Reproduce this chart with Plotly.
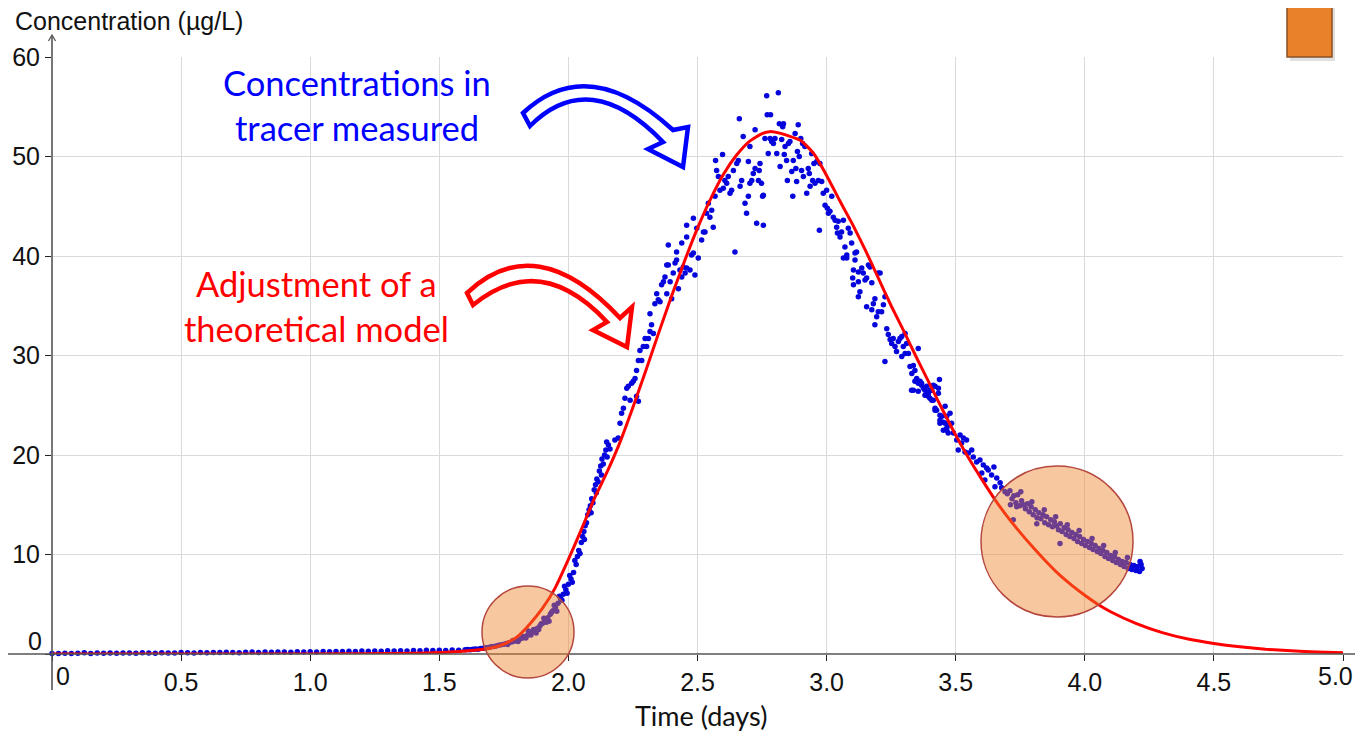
import plotly.graph_objects as go

# ---------------- data (time in days, concentration in µg/L) ----------------
meas_baseline = [
    [0.000, 0.06], [0.025, 0.04], [0.050, 0.08], [0.075, 0.05], [0.100, 0.07], [0.125, 0.12],
    [0.150, 0.06], [0.175, 0.09], [0.200, 0.07], [0.225, 0.10], [0.250, 0.08], [0.275, 0.11],
    [0.300, 0.09], [0.325, 0.07], [0.350, 0.12], [0.375, 0.10], [0.400, 0.08], [0.425, 0.13],
    [0.450, 0.11], [0.475, 0.09], [0.500, 0.14], [0.525, 0.12], [0.550, 0.10], [0.575, 0.15],
    [0.600, 0.13], [0.625, 0.16], [0.650, 0.14], [0.675, 0.18], [0.700, 0.15], [0.725, 0.13],
    [0.750, 0.17], [0.775, 0.19], [0.800, 0.16], [0.825, 0.20], [0.850, 0.18], [0.875, 0.21],
    [0.900, 0.19], [0.925, 0.17], [0.950, 0.22], [0.975, 0.20], [1.000, 0.23], [1.025, 0.21],
    [1.050, 0.25], [1.075, 0.22], [1.100, 0.26], [1.125, 0.24], [1.150, 0.28], [1.175, 0.25],
    [1.200, 0.29], [1.225, 0.27], [1.250, 0.30], [1.275, 0.28], [1.300, 0.32], [1.325, 0.30],
    [1.350, 0.33], [1.375, 0.31], [1.400, 0.35], [1.425, 0.33], [1.450, 0.37], [1.475, 0.35],
    [1.500, 0.38], [1.525, 0.36], [1.550, 0.40], [1.575, 0.38],
]
meas_onset = [
    [1.600, 0.42], [1.610, 0.45], [1.620, 0.43], [1.630, 0.48], [1.640, 0.50], [1.650, 0.47],
    [1.660, 0.55], [1.670, 0.58], [1.680, 0.62], [1.690, 0.66], [1.700, 0.72], [1.710, 0.76],
    [1.720, 0.80], [1.730, 0.88], [1.740, 0.92], [1.750, 0.98], [1.760, 1.05], [1.770, 1.12],
    [1.780, 1.20], [1.790, 1.28], [1.800, 1.38], [1.810, 1.46], [1.820, 1.58], [1.830, 1.72],
    [1.840, 1.85], [1.850, 2.02], [1.860, 2.20], [1.870, 2.38], [1.880, 2.60], [1.890, 2.85],
    [1.900, 3.10], [1.910, 3.40], [1.920, 3.65], [1.930, 4.00], [1.940, 4.35], [1.950, 4.70],
    [1.960, 5.10], [1.970, 5.55], [1.980, 6.00], [1.990, 6.45], [2.000, 7.00], [2.010, 7.55],
    [2.020, 8.20], [2.030, 9.00],
    [1.845, 2.30], [1.875, 2.10], [1.905, 3.60], [1.925, 3.30], [1.945, 4.90], [1.955, 4.30],
    [1.965, 5.80], [1.985, 6.80], [1.995, 6.10], [2.005, 7.90], [2.015, 7.20], [2.025, 9.40],
    [1.765, 0.95], [1.785, 1.35], [1.805, 1.25], [1.825, 1.75], [1.835, 1.60], [1.855, 1.90],
    [1.865, 2.45], [1.885, 2.45], [1.895, 3.05], [1.915, 3.20], [1.935, 4.20], [1.975, 5.40],
]
meas_rise = [
    [2.035, 9.8], [2.040, 10.4], [2.045, 10.1], [2.050, 11.2], [2.055, 11.8], [2.060, 12.3],
    [2.065, 12.9], [2.070, 13.2], [2.075, 14.0], [2.080, 14.5], [2.085, 14.9], [2.090, 15.6],
    [2.095, 15.2], [2.100, 16.5], [2.105, 17.0], [2.110, 17.6], [2.115, 17.3], [2.120, 18.4],
    [2.125, 18.9], [2.130, 19.6], [2.135, 19.1], [2.140, 20.0], [2.145, 20.5], [2.150, 19.8],
    [2.155, 21.0], [2.062, 11.5], [2.088, 14.2], [2.108, 16.2], [2.128, 18.0], [2.148, 21.3],
    [2.161, 20.6], [2.180, 21.5], [2.193, 21.7], [2.200, 23.2], [2.206, 24.2], [2.213, 24.7],
    [2.219, 25.7], [2.226, 26.7], [2.232, 26.9], [2.239, 25.5], [2.245, 27.2], [2.251, 27.4],
    [2.258, 27.7], [2.264, 25.9], [2.271, 25.4], [2.264, 28.5], [2.271, 29.5], [2.284, 29.5],
    [2.277, 30.5], [2.290, 30.9], [2.297, 31.7], [2.303, 30.9], [2.310, 31.7], [2.316, 32.4],
    [2.316, 34.2], [2.322, 33.1], [2.329, 32.2], [2.335, 35.2], [2.342, 36.2], [2.348, 35.6],
    [2.355, 35.4], [2.361, 37.1], [2.368, 37.4], [2.374, 37.9], [2.381, 36.2], [2.387, 39.1],
    [2.394, 37.4], [2.400, 35.7], [2.406, 38.3], [2.413, 39.3], [2.419, 39.6], [2.426, 36.7],
    [2.432, 38.6], [2.439, 37.9], [2.445, 38.9], [2.452, 38.3], [2.458, 38.8], [2.471, 38.6],
    [2.477, 40.1], [2.484, 40.3], [2.490, 38.1], [2.503, 39.8],
]
meas_peak = [
    [2.387, 41.1], [2.381, 39.1], [2.419, 40.4], [2.439, 41.3], [2.458, 41.9], [2.458, 43.1],
    [2.484, 43.8], [2.497, 42.8], [2.523, 42.4], [2.516, 41.6], [2.529, 42.4], [2.535, 44.3],
    [2.542, 45.3], [2.548, 43.9], [2.555, 44.6], [2.561, 42.9], [2.568, 46.0], [2.574, 48.6],
    [2.581, 48.0], [2.570, 49.6], [2.597, 50.2], [2.587, 46.6], [2.600, 46.8], [2.606, 47.6],
    [2.613, 47.3], [2.619, 48.0], [2.626, 46.3], [2.632, 46.6], [2.639, 48.6], [2.645, 40.4],
    [2.652, 49.3], [2.658, 49.6], [2.662, 53.8], [2.665, 47.0], [2.671, 47.6], [2.677, 52.0],
    [2.684, 45.3], [2.690, 44.3], [2.697, 46.0], [2.697, 49.5], [2.703, 47.3], [2.703, 51.0],
    [2.710, 47.6], [2.716, 48.3], [2.723, 48.8], [2.723, 52.7], [2.729, 43.3], [2.736, 47.6],
    [2.739, 48.6], [2.742, 49.3], [2.748, 47.3], [2.752, 46.0], [2.755, 43.1], [2.755, 46.1],
    [2.761, 51.8], [2.768, 56.1], [2.770, 54.2], [2.774, 50.3], [2.781, 51.8], [2.783, 54.2],
    [2.787, 51.5], [2.794, 51.3], [2.800, 51.8], [2.807, 50.3], [2.813, 56.4], [2.817, 53.3],
    [2.820, 49.0], [2.826, 51.7], [2.830, 53.0], [2.833, 53.3], [2.836, 50.2], [2.839, 51.0],
    [2.845, 49.6], [2.848, 47.6], [2.852, 51.3], [2.858, 51.5], [2.865, 48.5], [2.869, 46.0],
    [2.871, 49.6], [2.878, 52.3], [2.881, 48.8], [2.884, 47.5], [2.887, 50.5], [2.890, 53.2],
    [2.894, 50.0], [2.900, 51.8], [2.903, 48.6], [2.907, 51.3], [2.910, 48.0], [2.916, 51.0],
    [2.923, 46.3], [2.929, 48.8], [2.933, 48.3], [2.936, 47.0], [2.942, 50.3], [2.946, 47.6],
    [2.951, 49.3], [2.955, 47.3], [2.962, 49.5], [2.968, 47.6], [2.972, 42.6], [2.974, 49.3],
    [2.981, 47.5], [2.987, 46.3], [2.994, 45.1], [3.000, 46.6], [3.003, 44.8], [3.007, 44.3],
    [3.013, 44.5], [3.020, 46.0], [3.026, 43.9], [3.033, 43.6], [3.039, 42.9], [3.042, 42.3],
    [3.045, 43.5], [3.052, 41.9], [3.058, 42.4], [3.065, 43.6], [3.071, 40.9], [3.078, 39.8],
    [3.084, 42.8], [3.091, 42.3], [3.097, 41.3], [3.104, 38.6], [3.110, 40.3], [3.116, 40.4],
    [3.123, 38.4], [3.136, 38.8], [3.142, 38.3], [3.168, 38.9], [3.200, 38.3],
]
meas_fall = [
    [3.065, 39.8], [3.078, 40.1], [3.110, 39.6], [3.101, 37.8], [3.104, 37.1], [3.123, 37.4],
    [3.149, 37.6], [3.155, 37.8], [3.162, 39.1], [3.129, 36.4], [3.123, 35.9], [3.175, 37.3],
    [3.207, 38.3], [3.155, 34.9], [3.175, 34.6], [3.181, 35.2], [3.187, 35.7], [3.194, 33.9],
    [3.200, 34.4], [3.213, 34.4], [3.220, 35.1], [3.187, 33.1], [3.226, 35.9], [3.233, 32.7],
    [3.239, 32.1], [3.246, 31.6], [3.252, 31.2], [3.258, 31.7], [3.265, 30.9], [3.271, 30.4],
    [3.278, 31.4], [3.284, 31.7], [3.291, 31.9], [3.297, 30.9], [3.304, 32.2], [3.310, 31.2],
    [3.226, 29.4], [3.291, 29.9], [3.304, 30.2], [3.317, 30.2], [3.355, 30.7], [3.323, 28.9],
    [3.336, 29.0], [3.342, 28.5], [3.330, 28.2], [3.349, 27.7], [3.355, 27.2], [3.362, 27.4],
    [3.368, 27.0], [3.375, 26.7], [3.381, 26.5], [3.388, 26.9], [3.394, 26.2], [3.400, 26.5],
    [3.413, 27.0], [3.437, 27.6], [3.336, 26.5], [3.400, 25.7], [3.413, 25.5], [3.420, 24.7],
    [3.426, 24.5], [3.433, 26.2], [3.439, 24.0], [3.446, 23.9], [3.452, 23.3], [3.459, 23.2],
    [3.465, 22.5], [3.471, 22.2], [3.439, 23.2],
    [3.329, 26.5], [3.342, 27.4], [3.355, 26.4], [3.368, 27.2], [3.381, 26.0], [3.394, 25.9],
    [3.407, 26.5], [3.420, 26.9], [3.433, 26.7], [3.407, 25.5], [3.420, 24.5], [3.439, 23.5],
    [3.459, 24.9], [3.465, 23.9], [3.478, 24.2], [3.452, 22.5], [3.471, 23.0], [3.484, 23.2],
    [3.465, 22.7], [3.491, 22.2], [3.504, 21.5], [3.517, 22.0], [3.530, 21.7], [3.542, 21.5],
    [3.523, 21.2], [3.510, 20.5], [3.536, 20.3], [3.549, 20.2], [3.562, 20.5], [3.568, 19.8],
    [3.581, 19.3], [3.594, 19.5], [3.607, 19.0], [3.620, 18.7], [3.601, 18.2], [3.613, 17.5],
    [3.626, 18.5], [3.639, 18.0], [3.648, 18.8], [3.659, 17.7], [3.672, 17.2], [3.652, 16.8],
    [3.678, 16.7], [3.691, 16.3],
]
meas_tail = [
    [3.700, 16.1], [3.710, 16.4], [3.718, 15.6], [3.725, 15.9], [3.733, 15.2], [3.740, 16.0],
    [3.748, 14.9], [3.755, 15.4], [3.762, 15.0], [3.770, 14.6], [3.778, 15.1], [3.785, 14.3],
    [3.792, 14.8], [3.800, 14.0], [3.808, 14.5], [3.815, 13.7], [3.822, 14.2], [3.830, 13.6],
    [3.838, 14.0], [3.845, 13.2], [3.852, 13.8], [3.860, 13.0], [3.868, 13.5], [3.875, 12.8],
    [3.882, 13.3], [3.890, 12.9], [3.898, 12.5], [3.905, 13.1], [3.912, 12.3], [3.920, 12.7],
    [3.928, 12.0], [3.935, 12.5], [3.942, 11.8], [3.950, 12.2], [3.958, 11.6], [3.965, 12.0],
    [3.972, 11.3], [3.980, 11.8], [3.988, 11.1], [3.995, 11.5], [4.002, 10.9], [4.010, 11.3],
    [4.018, 10.7], [4.025, 11.1], [4.032, 10.5], [4.040, 10.9], [4.048, 10.3], [4.055, 10.6],
    [4.062, 10.1], [4.070, 10.4], [4.078, 9.8], [4.085, 10.2], [4.092, 9.6], [4.100, 9.9],
    [4.108, 9.4], [4.115, 9.8], [4.122, 9.2], [4.130, 9.5], [4.138, 9.0], [4.145, 9.3],
    [4.152, 8.8], [4.160, 9.2], [4.168, 8.6], [4.175, 9.0], [4.182, 8.5], [4.190, 8.9],
    [4.198, 8.4], [4.205, 8.8], [4.212, 8.3], [4.218, 9.0], [4.222, 8.6],
    [3.723, 13.5], [3.814, 13.1], [3.904, 11.1], [3.736, 14.8], [3.712, 15.0], [3.752, 16.3],
    [3.795, 15.3], [3.843, 14.5], [3.887, 13.8], [3.932, 13.0], [3.978, 12.4], [4.028, 11.6],
    [4.073, 10.9], [4.118, 10.2], [4.165, 9.7], [4.214, 9.3],
]

model_t = [0.0, 0.5, 1.0, 1.2, 1.4, 1.5, 1.6, 1.7, 1.75, 1.8, 1.85, 1.9, 1.95, 2.0, 2.05, 2.1,
           2.15, 2.2, 2.25, 2.3, 2.35, 2.4, 2.45, 2.5, 2.55, 2.6, 2.65, 2.7, 2.75, 2.78, 2.8,
           2.85, 2.9, 2.95, 3.0, 3.05, 3.1, 3.15, 3.2, 3.25, 3.3, 3.35, 3.4, 3.45, 3.5, 3.55,
           3.6, 3.65, 3.7, 3.75, 3.8, 3.85, 3.9, 3.95, 4.0, 4.05, 4.1, 4.2, 4.3, 4.4, 4.5,
           4.6, 4.7, 4.8, 4.9, 5.0]
model_c = [0.0, 0.0, 0.01, 0.03, 0.08, 0.15, 0.3, 0.6, 1.0, 1.7, 3.0, 4.6, 6.7, 9.5, 12.5, 15.6,
           18.3, 21.3, 24.8, 28.5, 32.3, 36.0, 39.5, 42.8, 45.7, 48.2, 50.1, 51.5, 52.3, 52.5, 52.45,
           52.1, 51.6, 50.3, 48.1, 45.6, 43.2, 40.6, 37.8, 35.0, 32.4, 29.7, 27.1, 24.5, 22.0, 19.7,
           17.6, 15.6, 13.8, 12.2, 10.7, 9.3, 8.0, 6.9, 5.9, 5.0, 4.25, 3.05, 2.15, 1.5, 1.05,
           0.72, 0.48, 0.32, 0.2, 0.12]

x_ticks = [0, 0.5, 1.0, 1.5, 2.0, 2.5, 3.0, 3.5, 4.0, 4.5, 5.0]
x_tick_text = ["", "0.5", "1.0", "1.5", "2.0", "2.5", "3.0", "3.5", "4.0", "4.5", ""]
x_last_label = "5.0"
y_ticks = [0, 10, 20, 30, 40, 50, 60]
y_tick_text = ["", "10", "20", "30", "40", "50", "60"]

# ---------------- layout geometry ----------------
OFF = 8                       # page body margin
W, H = 1363 - OFF, 731 - OFF
PLOT_L, PLOT_R, PLOT_T, PLOT_B = 52, 1343, 57, 654      # in page pixels
ML, MT = PLOT_L - OFF, PLOT_T - OFF
PW, PH = PLOT_R - PLOT_L, PLOT_B - PLOT_T
MR, MB = W - ML - PW, H - MT - PH


def ppx(x):
    return (x - PLOT_L) / PW


def ppy(y):
    return (PLOT_B - y) / PH


def path(points_cmds):
    out = []
    for cmd, pts in points_cmds:
        coords = " ".join(f"{ppx(x):.5f},{ppy(y):.5f}" for x, y in pts)
        out.append(f"{cmd} {coords}")
    return " ".join(out) + " Z"


all_meas = meas_baseline + meas_onset + meas_rise + meas_peak + meas_fall + meas_tail
meas_t = [p[0] for p in all_meas]
meas_c = [p[1] for p in all_meas]

fig = go.Figure()
fig.add_trace(go.Scatter(
    x=meas_t, y=meas_c, mode="markers",
    marker=dict(size=5.5, color="#0505dc", line=dict(width=0)),
    cliponaxis=False, showlegend=False, name="measured"))
fig.add_trace(go.Scatter(
    x=model_t, y=model_c, mode="lines",
    line=dict(color="#ff0000", width=3, shape="spline", smoothing=0.5),
    cliponaxis=False, showlegend=False, name="model"))

axis_font = dict(family="Liberation Sans, Arial, sans-serif", size=25, color="#111")

shapes = [
    dict(type="line", xref="x", yref="y", x0=0, x1=5, y0=10, y1=10,
         line=dict(color="#9a9a9a", width=1), layer="below"),
    dict(type="line", xref="paper", yref="paper", x0=ppx(8), x1=ppx(1363), y0=0, y1=0,
         line=dict(color="#555", width=1.6), layer="above"),
    dict(type="line", xref="paper", yref="paper", x0=0, x1=0, y0=ppy(690), y1=ppy(36),
         line=dict(color="#555", width=1.6), layer="above"),
    dict(type="path", xref="paper", yref="paper",
         path=f"M {ppx(48.5):.5f},{ppy(41):.5f} L {ppx(52):.5f},{ppy(35):.5f} L {ppx(55.5):.5f},{ppy(41):.5f}",
         line=dict(color="#555", width=1.3), layer="above"),
    dict(type="circle", xref="paper", yref="paper",
         x0=ppx(482), x1=ppx(574), y0=ppy(678), y1=ppy(586),
         fillcolor="rgba(238,132,44,0.45)", line=dict(color="#b5473f", width=1.5), layer="above"),
    dict(type="circle", xref="paper", yref="paper",
         x0=ppx(981), x1=ppx(1133), y0=ppy(617), y1=ppy(466),
         fillcolor="rgba(238,132,44,0.45)", line=dict(color="#b5473f", width=1.5), layer="above"),
    dict(type="path", xref="paper", yref="paper",
         path=path([("M", [(523, 113)]), ("Q", [(588, 52), (673, 130)]),
                    ("L", [(688, 127)]), ("L", [(683, 167)]), ("L", [(648, 149)]),
                    ("L", [(663, 142)]), ("Q", [(590, 66), (530, 126)])]),
         fillcolor="white", line=dict(color="#0000ff", width=4.5), layer="above"),
    dict(type="path", xref="paper", yref="paper",
         path=path([("M", [(467, 293)]), ("Q", [(536, 228), (620, 318)]),
                    ("L", [(632, 307)]), ("L", [(627, 347)]), ("L", [(593, 330)]),
                    ("L", [(607, 322)]), ("Q", [(540, 250), (473, 305)])]),
         fillcolor="white", line=dict(color="#ff0000", width=4.5), layer="above"),
    dict(type="rect", xref="paper", yref="paper",
         x0=ppx(1290), x1=ppx(1335), y0=ppy(61), y1=ppy(OFF),
         fillcolor="rgba(0,0,0,0.12)", line=dict(width=0), layer="above"),
    dict(type="rect", xref="paper", yref="paper",
         x0=ppx(1287), x1=ppx(1332), y0=ppy(57), y1=ppy(OFF - 2),
         fillcolor="#e8822a", line=dict(color="#8a4f22", width=1.5), layer="above"),
]

ann_font_main = "Lato, Carlito, 'Open Sans', sans-serif"
annotations = [
    dict(text="Concentration (µg/L)", xref="paper", yref="paper", x=ppx(13), y=ppy(21),
         xanchor="left", yanchor="middle", showarrow=False,
         font=dict(family="Liberation Sans, Arial, sans-serif", size=25, color="#111")),
    dict(text="Time (days)", xref="paper", yref="paper", x=ppx(701), y=ppy(715),
         xanchor="center", yanchor="middle", showarrow=False,
         font=dict(family=ann_font_main, size=27, color="#111")),
    dict(text="0", xref="paper", yref="paper", x=ppx(63), y=ppy(676),
         xanchor="center", yanchor="middle", showarrow=False, font=axis_font),
    dict(text=x_last_label, xref="paper", yref="paper", x=ppx(1355), y=ppy(676),
         xanchor="right", yanchor="middle", showarrow=False, font=axis_font),
    dict(text="0", xref="paper", yref="paper", x=ppx(44), y=ppy(641),
         xanchor="right", yanchor="middle", showarrow=False, font=axis_font),
    dict(text="Concentrations in", xref="paper", yref="paper", x=ppx(357), y=ppy(82),
         xanchor="center", yanchor="middle", showarrow=False,
         font=dict(family=ann_font_main, size=34.5, color="#0000ff")),
    dict(text="tracer measured", xref="paper", yref="paper", x=ppx(357), y=ppy(127),
         xanchor="center", yanchor="middle", showarrow=False,
         font=dict(family=ann_font_main, size=34.5, color="#0000ff")),
    dict(text="Adjustment of a", xref="paper", yref="paper", x=ppx(316), y=ppy(283),
         xanchor="center", yanchor="middle", showarrow=False,
         font=dict(family=ann_font_main, size=34.5, color="#ff0000")),
    dict(text="theoretical model", xref="paper", yref="paper", x=ppx(316), y=ppy(328),
         xanchor="center", yanchor="middle", showarrow=False,
         font=dict(family=ann_font_main, size=34.5, color="#ff0000")),
]

fig.update_layout(
    width=W, height=H,
    margin=dict(l=ML, r=MR, t=MT, b=MB, pad=0, autoexpand=False),
    paper_bgcolor="white", plot_bgcolor="white",
    showlegend=False,
    xaxis=dict(range=[0, 5], tickvals=x_ticks, ticktext=x_tick_text, showgrid=True,
               gridcolor="#dadada", gridwidth=1, zeroline=False, showline=False,
               ticks="outside", ticklen=6, tickwidth=1, tickcolor="#222",
               tickfont=axis_font, fixedrange=True, automargin=False),
    yaxis=dict(range=[0, 60], tickvals=y_ticks, ticktext=y_tick_text, showgrid=True,
               gridcolor="#dadada", gridwidth=1, zeroline=False, showline=False,
               ticks="outside", ticklen=6, tickwidth=1, tickcolor="#222",
               tickfont=axis_font, fixedrange=True, automargin=False),
    shapes=shapes,
    annotations=annotations,
)

fig.write_html("out.html")
